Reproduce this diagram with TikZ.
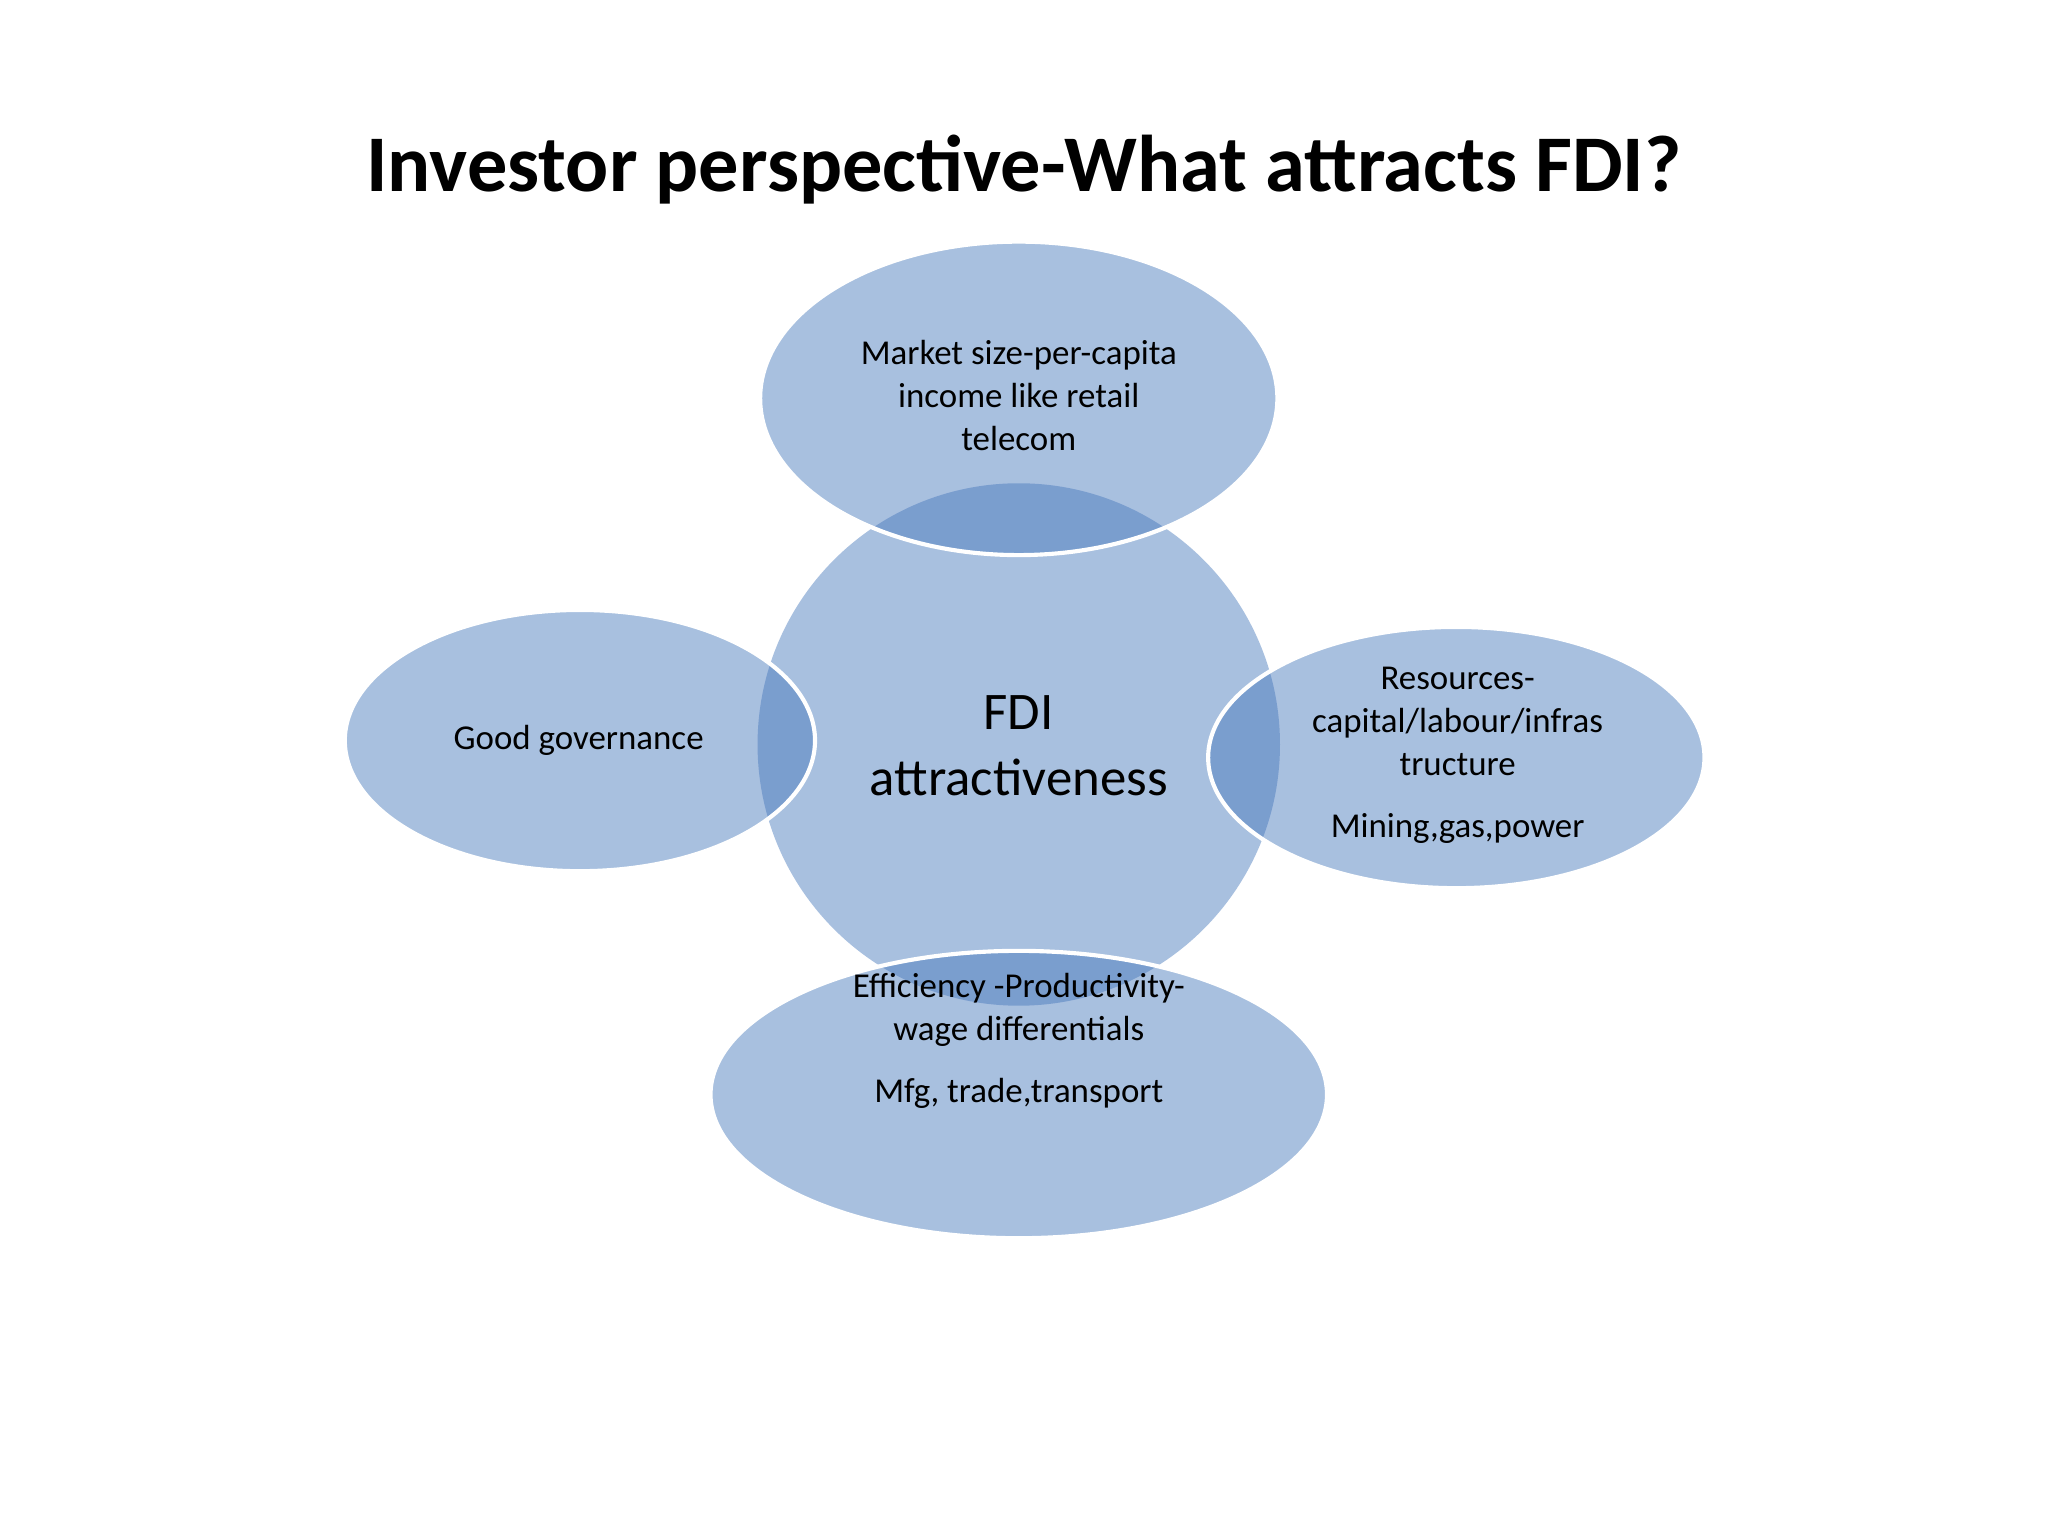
\documentclass[tikz,border=0pt]{standalone}
\usepackage{fontspec}
\setmainfont{Carlito}
\definecolor{blob}{RGB}{70,120,188}
\begin{document}
\begin{tikzpicture}[x=0.01cm,y=-0.01cm,
  blobst/.style={fill=blob,fill opacity=0.465},
  sat/.style={blobst,draw=white,draw opacity=1,line width=0.9pt},
  lab/.style={align=center,font=\fontsize{7.6pt}{9.4pt}\selectfont,text=black}]
\useasboundingbox[fill=white] (0,0) rectangle (1568,1176);
\node[font=\fontsize{17.5pt}{21pt}\selectfont\bfseries] (title) at (784,130) {Investor perspective-What attracts FDI?};
\fill[blobst] (780,570) circle [radius=200];
\path[sat] (780,305) ellipse [x radius=198,y radius=120];
\path[sat] (444,567) ellipse [x radius=180,y radius=100];
\path[sat] (1115,580) ellipse [x radius=190,y radius=100];
\path[sat] (780,838) ellipse [x radius=236,y radius=110];
\node[lab] (top) at (780,303) {Market size-per-capita\\income like retail\\telecom};
\node[lab] (left) at (443,567) {Good governance};
\node[lab] (right) at (1116,578) {Resources-\\capital/labour/infras\\tructure\\[4pt]Mining,gas,power};
\node[lab] (bot) at (780,797) {Efficiency -Productivity-\\wage differentials\\[4pt]Mfg, trade,transport};
\node[align=center,font=\fontsize{11.5pt}{14.5pt}\selectfont] (c) at (780,571) {FDI\\attractiveness};
\end{tikzpicture}
\end{document}
